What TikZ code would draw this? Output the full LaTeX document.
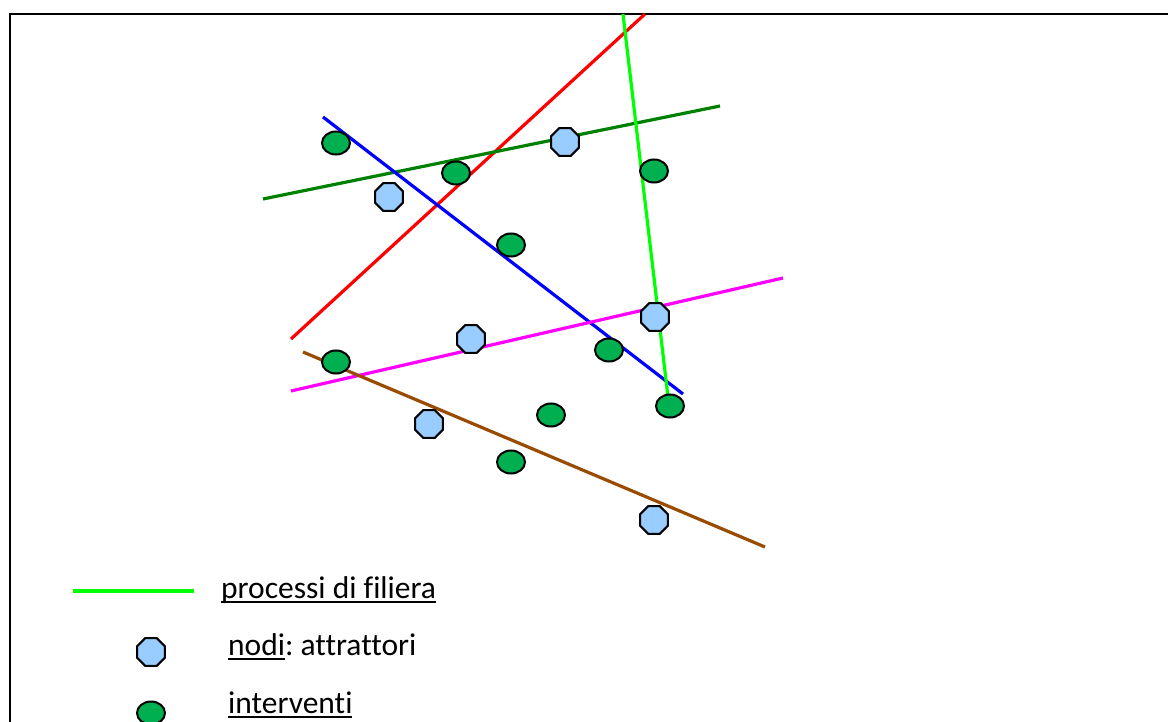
\documentclass[tikz,border=0pt]{standalone}
\usepackage{fontspec}
\setmainfont[Ligatures=NoCommon]{Carlito}
\usetikzlibrary{shapes.geometric}
\definecolor{nodeblue}{RGB}{153,204,255}
\definecolor{intgreen}{RGB}{0,176,80}
\definecolor{lime}{RGB}{0,255,0}
\definecolor{dgreen}{RGB}{0,128,0}
\definecolor{brownline}{RGB}{153,76,0}
\definecolor{purem}{RGB}{255,0,255}
\newcommand\ulx[1]{\setbox0\hbox{#1}\rlap{\rule[-5pt]{\wd0}{2.2pt}}\box0}
\tikzset{
  attr/.style={regular polygon, regular polygon sides=8, draw=black, line width=2pt, fill=nodeblue, minimum size=30pt, inner sep=0pt},
  interv/.style={ellipse, draw=black, line width=2pt, fill=intgreen, minimum width=28pt, minimum height=23pt, inner sep=0pt},
  fline/.style={line width=3.2pt},
  legtext/.style={anchor=base west, font=\fontsize{31.5}{36}\selectfont\frenchspacing, inner sep=0pt}
}
\begin{document}
\begin{tikzpicture}[x=1pt,y=-1pt]
\useasboundingbox (0,0) rectangle (1168,722);
% frame
\draw[line width=2.2pt] (10,730) -- (10,14) -- (1180,14);
% line endpoints
\coordinate (r1) at (291,339); \coordinate (r2) at (645,14);
\coordinate (l1) at (623,14);  \coordinate (l2) at (668,397);
\coordinate (g1) at (263,199); \coordinate (g2) at (720,106);
\coordinate (b1) at (323,117); \coordinate (b2) at (683,394);
\coordinate (m1) at (291,391); \coordinate (m2) at (783,278);
\coordinate (w1) at (303,352); \coordinate (w2) at (765,547);
\draw[fline,red] (r1) -- (r2);
\draw[fline,dgreen] (g1) -- (g2);
\draw[fline,blue] (b1) -- (b2);
\draw[fline,purem] (m1) -- (m2);
\draw[fline,brownline] (w1) -- (w2);
\draw[fline,lime] (l1) -- (l2);
% attractors
\node[attr] (a1) at (565,142) {};
\node[attr] (a2) at (389,197) {};
\node[attr] (a3) at (471,339) {};
\node[attr] (a4) at (655,317) {};
\node[attr] (a5) at (429,424) {};
\node[attr] (a6) at (654,520) {};
% interventions
\node[interv] (i1) at (336,143) {};
\node[interv] (i2) at (456,173) {};
\node[interv] (i3) at (654,171) {};
\node[interv] (i4) at (511,245) {};
\node[interv] (i5) at (336,362) {};
\node[interv] (i6) at (609,350) {};
\node[interv] (i7) at (551,415) {};
\node[interv] (i8) at (670,406) {};
\node[interv] (i9) at (511,462) {};
% legend
\coordinate (k1) at (73,591); \coordinate (k2) at (194,591);
\draw[fline,lime] (k1) -- (k2);
\node[legtext] (t1) at (221,598) {\ulx{processi di filiera}};
\node[attr] (ka) at (151,652) {};
\node[legtext] (t2) at (228,655) {\ulx{nodi}: attrattori};
\node[interv] (ki) at (151,713) {};
\node[legtext] (t3) at (228,713) {\ulx{interventi}};
\end{tikzpicture}
\end{document}
